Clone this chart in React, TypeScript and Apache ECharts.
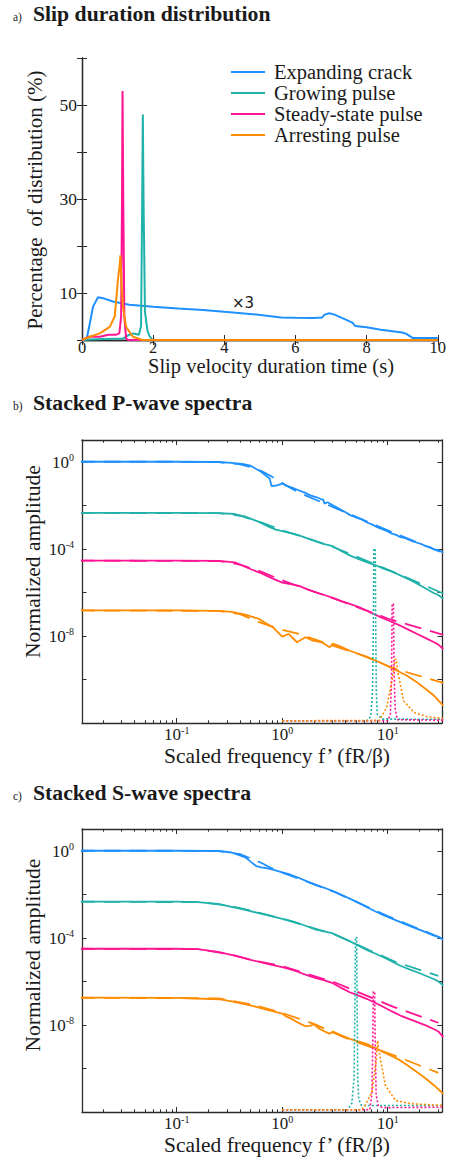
import React, { useEffect, useRef } from 'react';
import * as echarts from 'echarts';

const SERIF = 'Liberation Serif, serif';
const TXT = '#1a1a1a';
const AXIS = '#2b2b2b';
const BLUE = '#1E90FF';
const TEAL = '#20B2AA';
const PINK = '#FF1493';
const ORANGE = '#FF8C00';

const legendNames = ['Expanding crack', 'Growing pulse', 'Steady-state pulse', 'Arresting pulse'];

// ---------- Panel a: [slip velocity duration (s), percentage of distribution (%)]
const durMin = 0;
const durMax = 10;
const durInterval = 2;
const pctMax = 60;
const pctInterval = 10;
const pctLabels = [10, 30, 50];

const durExpanding = [
  [0, 0], [0.13, 0.2], [0.22, 3.5], [0.31, 7.1], [0.45, 9.1], [0.59, 8.9], [0.87, 8.2], [1.33, 7.5],
  [2.0, 7.1], [2.7, 6.7], [3.4, 6.4], [4.0, 6.0], [4.8, 5.5], [5.6, 4.8], [6.0, 4.75], [6.5, 4.7],
  [6.75, 4.8], [6.82, 5.4], [6.95, 5.7], [7.1, 5.4], [7.6, 3.7], [7.68, 3.0], [8.0, 2.7], [8.4, 2.2],
  [9.0, 1.6], [9.12, 1.3], [9.3, 0.4], [10, 0.4],
];
const durGrowing = [
  [0, 0], [0.2, 0.1], [0.6, 0.2], [1.15, 0.3], [1.3, 1.0], [1.45, 1.4], [1.6, 1.1], [1.66, 3],
  [1.69, 28], [1.71, 48], [1.73, 30], [1.77, 6], [1.84, 2], [1.9, 0.8], [1.98, 0], [10, 0],
];
const durSteady = [
  [0, 0], [0.2, 0.7], [0.5, 0.7], [0.75, 1.1], [0.95, 1.1], [1.05, 1.4], [1.1, 5], [1.125, 30],
  [1.14, 53], [1.16, 30], [1.19, 5], [1.24, 0.3], [1.3, 0], [10, 0],
];
const durArresting = [
  [0, 0], [0.22, 0.7], [0.5, 1.4], [0.78, 2.8], [0.92, 5], [1.01, 12.8], [1.06, 16], [1.08, 18],
  [1.11, 12], [1.15, 7.1], [1.24, 2.8], [1.43, 0.7], [1.7, 0], [10, 0],
];

// ---------- Panels b and c: [log10 f', log10 normalized amplitude]
const pExpObs = [
  [-1.94, 0], [-1.5, 0], [-1, 0], [-0.6, -0.01], [-0.48, -0.05], [-0.38, -0.1], [-0.3, -0.18], [-0.2, -0.46],
  [-0.12, -0.77], [-0.1, -1.12], [-0.05, -1.08], [0, -1.0], [0.05, -1.12], [0.1, -1.2], [0.16, -1.32],
  [0.22, -1.43], [0.26, -1.53], [0.32, -1.62], [0.36, -1.7], [0.39, -1.75], [0.4, -1.92], [0.43, -1.86],
  [0.48, -2.0], [0.54, -2.16], [0.6, -2.32], [0.64, -2.44], [0.7, -2.56], [0.76, -2.66], [0.8, -2.78],
  [0.86, -2.9], [0.9, -3.0], [0.96, -3.12], [1.0, -3.2], [1.04, -3.3], [1.08, -3.36], [1.12, -3.46],
  [1.16, -3.5], [1.2, -3.58], [1.24, -3.66], [1.28, -3.72], [1.32, -3.78], [1.36, -3.88], [1.4, -3.92],
  [1.44, -4.02], [1.48, -4.05], [1.526, -4.18],
];
const pExpFit = [
  [-1.94, 0], [-1, 0], [-0.6, -0.02], [-0.4, -0.12], [-0.3, -0.24], [-0.2, -0.42], [-0.1, -0.68],
  [0, -0.98], [0.1, -1.26], [0.2, -1.5], [0.5, -2.12], [1.0, -3.15], [1.526, -4.2],
];
const pGrowObs = [
  [-1.94, -2.35], [-1, -2.35], [-0.6, -2.36], [-0.45, -2.4], [-0.35, -2.52], [-0.22, -2.76], [-0.12, -3.0],
  [-0.06, -3.12], [0.04, -3.23], [0.1, -3.3], [0.16, -3.38], [0.24, -3.52], [0.32, -3.66], [0.4, -3.78],
  [0.48, -3.88], [0.56, -4.1], [0.64, -4.3], [0.72, -4.46], [0.8, -4.61], [0.87, -4.72], [0.96, -4.91],
  [1.04, -5.05], [1.12, -5.22], [1.2, -5.4], [1.28, -5.6], [1.36, -5.82], [1.44, -6.04], [1.48, -6.12],
  [1.526, -6.3],
];
const pGrowFit = [
  [-1.94, -2.35], [-0.6, -2.36], [-0.4, -2.48], [-0.2, -2.78], [0, -3.15], [0.2, -3.45], [0.5, -3.95],
  [1.0, -4.95], [1.526, -6.05],
];
const pSteadyObs = [
  [-1.94, -4.54], [-1, -4.54], [-0.6, -4.55], [-0.45, -4.62], [-0.29, -4.95], [-0.2, -5.12], [-0.11, -5.32],
  [0, -5.55], [0.08, -5.62], [0.16, -5.7], [0.24, -5.86], [0.32, -6.0], [0.4, -6.12], [0.48, -6.25],
  [0.56, -6.4], [0.64, -6.53], [0.72, -6.66], [0.8, -6.83], [0.88, -7.02], [0.96, -7.2], [1.04, -7.36],
  [1.12, -7.53], [1.2, -7.72], [1.28, -7.91], [1.36, -8.1], [1.44, -8.29], [1.48, -8.4], [1.526, -8.6],
];
const pSteadyFit = [
  [-1.94, -4.54], [-0.6, -4.56], [-0.4, -4.72], [-0.2, -5.05], [0, -5.45], [0.2, -5.8], [0.5, -6.3],
  [1.0, -7.2], [1.526, -7.95],
];
const pArrestObs = [
  [-1.94, -6.83], [-1, -6.83], [-0.6, -6.85], [-0.48, -6.9], [-0.35, -7.02], [-0.22, -7.22], [-0.09, -7.6],
  [0, -8.03], [0.06, -7.91], [0.14, -8.29], [0.22, -8.06], [0.29, -8.22], [0.38, -8.3], [0.45, -8.52],
  [0.48, -8.35], [0.56, -8.5], [0.64, -8.68], [0.72, -8.82], [0.8, -8.98], [0.88, -9.12], [0.96, -9.29],
  [1.02, -9.42], [1.09, -9.6], [1.18, -9.82], [1.28, -10.14], [1.36, -10.44], [1.44, -10.75], [1.526, -11.2],
];
const pArrestFit = [
  [-1.94, -6.83], [-0.6, -6.85], [-0.4, -7.0], [-0.22, -7.37], [0, -7.72], [0.16, -7.91], [0.48, -8.45],
  [0.8, -8.95], [1.03, -9.45], [1.526, -10.16],
];
const pGrowDot = [
  [0.0, -11.9], [0.8, -11.9], [0.84, -11.7], [0.856, -10.5], [0.864, -7.5], [0.868, -4.0], [0.882, -4.0],
  [0.886, -7.5], [0.892, -10.5], [0.9, -11.6], [0.95, -11.82], [1.526, -11.83],
];
const pSteadyDot = [
  [0.0, -11.9], [1.0, -11.9], [1.025, -11.6], [1.036, -10], [1.042, -6.53], [1.054, -6.53], [1.06, -9.5],
  [1.07, -11.3], [1.09, -11.85], [1.526, -11.87],
];
const pArrestDot = [
  [0.0, -11.9], [0.92, -11.88], [0.99, -11.29], [1.04, -10.06], [1.07, -9.1], [1.08, -9.06], [1.1, -9.75],
  [1.15, -10.98], [1.25, -11.52], [1.38, -11.72], [1.526, -11.78],
];

const sExpObs = [
  [-1.94, 0], [-1, 0], [-0.6, -0.01], [-0.48, -0.08], [-0.35, -0.3], [-0.3, -0.5], [-0.25, -0.69],
  [-0.2, -0.76], [-0.15, -0.8], [-0.08, -0.88], [0, -0.99], [0.08, -1.1], [0.16, -1.25], [0.24, -1.42],
  [0.32, -1.58], [0.4, -1.7], [0.48, -1.85], [0.56, -2.02], [0.64, -2.2], [0.72, -2.38], [0.8, -2.58],
  [0.88, -2.78], [0.96, -2.96], [1.04, -3.12], [1.12, -3.28], [1.2, -3.44], [1.28, -3.59], [1.36, -3.74],
  [1.44, -3.9], [1.48, -3.96], [1.526, -4.08],
];
const sExpFit = [
  [-1.94, 0], [-1, 0], [-0.6, -0.02], [-0.4, -0.15], [-0.3, -0.35], [-0.2, -0.55], [-0.1, -0.8],
  [0, -1.0], [0.2, -1.35], [0.5, -1.9], [1.0, -3.0], [1.526, -4.05],
];
const sGrowObs = [
  [-1.94, -2.34], [-1, -2.34], [-0.8, -2.36], [-0.61, -2.44], [-0.5, -2.55], [-0.35, -2.72], [-0.15, -2.95],
  [0, -3.13], [0.08, -3.22], [0.16, -3.34], [0.24, -3.48], [0.32, -3.62], [0.4, -3.7], [0.48, -3.8],
  [0.56, -3.98], [0.64, -4.15], [0.72, -4.35], [0.8, -4.56], [0.88, -4.72], [0.96, -4.89], [1.04, -5.08],
  [1.12, -5.28], [1.2, -5.44], [1.28, -5.58], [1.36, -5.74], [1.44, -5.9], [1.48, -6.0], [1.526, -6.19],
];
const sGrowFit = [
  [-1.94, -2.34], [-0.8, -2.36], [-0.5, -2.52], [-0.3, -2.75], [0, -3.12], [0.5, -3.85], [1.06, -5.08],
  [1.48, -5.75],
];
const sSteadyObs = [
  [-1.94, -4.5], [-1, -4.5], [-0.8, -4.52], [-0.61, -4.64], [-0.45, -4.82], [-0.29, -5.02], [-0.15, -5.18],
  [0, -5.34], [0.08, -5.45], [0.16, -5.58], [0.24, -5.72], [0.32, -5.85], [0.4, -5.95], [0.48, -6.08],
  [0.56, -6.3], [0.64, -6.5], [0.72, -6.64], [0.8, -6.8], [0.88, -6.98], [0.96, -7.18], [1.04, -7.38],
  [1.12, -7.57], [1.2, -7.72], [1.28, -7.87], [1.36, -8.02], [1.44, -8.2], [1.48, -8.3], [1.526, -8.56],
];
const sSteadyFit = [
  [-1.94, -4.5], [-0.8, -4.52], [-0.5, -4.75], [-0.29, -5.02], [0, -5.3], [0.5, -6.05], [1.06, -7.18],
  [1.48, -7.9],
];
const sArrestObs = [
  [-1.94, -6.75], [-1, -6.76], [-0.6, -6.82], [-0.48, -6.92], [-0.3, -7.1], [-0.15, -7.3], [0, -7.48],
  [0.04, -7.62], [0.08, -7.7], [0.16, -7.92], [0.22, -8.06], [0.26, -8.04], [0.3, -7.98], [0.36, -8.2],
  [0.45, -8.41], [0.48, -8.3], [0.56, -8.48], [0.64, -8.64], [0.72, -8.76], [0.8, -8.87], [0.88, -9.06],
  [0.96, -9.25], [1.04, -9.44], [1.12, -9.63], [1.2, -9.9], [1.28, -10.17], [1.36, -10.46], [1.44, -10.78],
  [1.526, -11.16],
];
const sArrestFit = [
  [-1.94, -6.75], [-0.6, -6.78], [-0.3, -7.05], [0, -7.45], [0.3, -7.95], [0.6, -8.6], [1.06, -9.4],
  [1.48, -10.2],
];
const sGrowDot = [
  [0.0, -11.9], [0.62, -11.9], [0.66, -11.6], [0.68, -10.5], [0.69, -7], [0.694, -3.97], [0.706, -3.97],
  [0.71, -7], [0.716, -10.5], [0.725, -11.4], [0.75, -11.7], [1.526, -11.7],
];
const sSteadyDot = [
  [0.0, -11.9], [0.83, -11.9], [0.85, -11.2], [0.858, -9], [0.864, -6.47], [0.876, -6.47], [0.882, -9],
  [0.89, -11.2], [0.91, -11.7], [0.95, -11.8], [1.526, -11.78],
];
const sArrestDot = [
  [0.0, -11.9], [0.75, -11.9], [0.786, -11.7], [0.85, -11.08], [0.89, -9.71], [0.904, -8.72], [0.93, -9.56],
  [0.978, -10.78], [1.074, -11.47], [1.22, -11.62], [1.526, -11.7],
];

// ---------- log axes ticks
const fMin = 0.01265;
const fMax = 32.7;
const ampMin = 1e-12;
const ampMax = 10;
const xMajorTicks = [0.1, 1, 10];
const xMinorTicks = [
  0.02, 0.03, 0.04, 0.05, 0.06, 0.07, 0.08, 0.09,
  0.2, 0.3, 0.4, 0.5, 0.6, 0.7, 0.8, 0.9,
  2, 3, 4, 5, 6, 7, 8, 9, 20, 30,
];
const yTicks = [1e-10, 1e-8, 1e-6, 1e-4, 1e-2, 1];
const yLabelTicks = [1e-8, 1e-4, 1];

const toXY = (pts: number[][]) => pts.map(([lf, la]) => [Math.pow(10, lf), Math.pow(10, la)]);

const powRich = {
  b: { fontFamily: SERIF, fontSize: 17, color: TXT, lineHeight: 18, verticalAlign: 'bottom' },
  s: { fontFamily: SERIF, fontSize: 10, color: TXT, lineHeight: 10, verticalAlign: 'top' },
};
const powLabel = (v: number) => {
  const e = Math.round(Math.log10(v));
  return `{b|10}{s|${e}}`;
};

const tickStyle = { color: AXIS, width: 1 };
const lineStyleAxis = { color: AXIS, width: 1.3 };

function logXAxes(gridIndex: number) {
  const base = {
    type: 'log', logBase: 10, gridIndex, min: fMin, max: fMax,
    splitLine: { show: false }, minorTick: { show: false }, minorSplitLine: { show: false },
  };
  return [
    {
      ...base, position: 'bottom',
      axisLine: { show: true, lineStyle: lineStyleAxis },
      axisTick: { show: true, inside: true, length: 5, customValues: xMajorTicks, lineStyle: tickStyle },
      axisLabel: { show: true, customValues: xMajorTicks, formatter: powLabel, rich: powRich, margin: 2 },
    },
    {
      ...base, position: 'bottom',
      axisLine: { show: false },
      axisTick: { show: true, inside: true, length: 2.7, customValues: xMinorTicks, lineStyle: tickStyle },
      axisLabel: { show: false },
    },
    {
      ...base, position: 'top',
      axisLine: { show: true, lineStyle: lineStyleAxis },
      axisTick: { show: true, inside: true, length: 5, customValues: xMajorTicks, lineStyle: tickStyle },
      axisLabel: { show: false },
    },
    {
      ...base, position: 'top',
      axisLine: { show: false },
      axisTick: { show: true, inside: true, length: 2.7, customValues: xMinorTicks, lineStyle: tickStyle },
      axisLabel: { show: false },
    },
  ];
}

function logYAxes(gridIndex: number) {
  const base = {
    type: 'log', logBase: 10, gridIndex, min: ampMin, max: ampMax,
    splitLine: { show: false }, minorTick: { show: false }, minorSplitLine: { show: false },
    axisLine: { show: true, lineStyle: lineStyleAxis },
  };
  return [
    {
      ...base, position: 'left',
      axisTick: { show: true, inside: true, length: 4.5, customValues: yTicks, lineStyle: tickStyle },
      axisLabel: { show: true, customValues: yLabelTicks, formatter: powLabel, rich: powRich, margin: 8 },
    },
    {
      ...base, position: 'right',
      axisTick: { show: true, inside: true, length: 4.5, customValues: yTicks, lineStyle: tickStyle },
      axisLabel: { show: false },
    },
  ];
}

type Kind = 'solid' | 'dashed' | 'dotted';
function specSeries(name: string, pts: number[][], color: string, xi: number, yi: number, kind: Kind, z: number) {
  const type = kind === 'solid' ? 'solid' : kind === 'dashed' ? [17, 9] : [2, 2];
  const width = kind === 'solid' ? 1.8 : kind === 'dashed' ? 1.8 : 1.6;
  return {
    type: 'line', name, data: toXY(pts), xAxisIndex: xi, yAxisIndex: yi,
    symbol: 'none', silent: true, z,
    lineStyle: { color, width, type },
  };
}

function durSeries(name: string, pts: number[][], color: string, z: number) {
  return {
    type: 'line', name, data: pts, xAxisIndex: 0, yAxisIndex: 0,
    symbol: 'none', showSymbol: false, silent: true, z,
    itemStyle: { color },
    lineStyle: { color, width: 2 },
  };
}

function spectraPanel(prefix: string, xi: number, yi: number, sets: any[]) {
  const colors = [BLUE, TEAL, PINK, ORANGE];
  const out: any[] = [];
  sets.forEach((s, i) => out.push(specSeries(`${prefix} ${legendNames[i]} observed`, s.obs, colors[i], xi, yi, 'solid', 2)));
  sets.forEach((s, i) => out.push(specSeries(`${prefix} ${legendNames[i]} fit`, s.fit, colors[i], xi, yi, 'dashed', 3)));
  sets.forEach((s, i) => {
    if (s.dot) out.push(specSeries(`${prefix} ${legendNames[i]} dotted`, s.dot, colors[i], xi, yi, 'dotted', 4));
  });
  return out;
}

const linAxisBase = {
  splitLine: { show: false },
  axisLine: { show: true, lineStyle: lineStyleAxis },
};

export default function App() {
  const ref = useRef<HTMLDivElement>(null);

  useEffect(() => {
    if (!ref.current) return;
    const chart = echarts.init(ref.current, undefined, { renderer: 'svg' });

    const gridL = 82;
    const gridW = 360;
    const grids = [
      { left: gridL, top: 58, width: gridW, height: 282 },
      { left: gridL, top: 440, width: gridW, height: 283 },
      { left: gridL, top: 829, width: gridW, height: 283 },
    ];

    const xAxes: any[] = [
      {
        ...linAxisBase, type: 'value', gridIndex: 0, position: 'bottom', min: durMin, max: durMax, interval: durInterval,
        axisTick: { show: true, inside: true, length: 5, lineStyle: tickStyle },
        axisLabel: { show: true, fontFamily: SERIF, fontSize: 16.5, lineHeight: 12, color: TXT, margin: 1 },
      },
      {
        ...linAxisBase, type: 'value', gridIndex: 0, position: 'top', min: durMin, max: durMax, interval: durInterval,
        axisTick: { show: true, inside: true, length: 5, lineStyle: tickStyle },
        axisLabel: { show: false },
      },
      ...logXAxes(1),
      ...logXAxes(2),
    ];

    const yAxes: any[] = [
      {
        ...linAxisBase, type: 'value', gridIndex: 0, position: 'left', min: 0, max: pctMax, interval: pctInterval,
        axisTick: { show: true, inside: true, length: 5, lineStyle: tickStyle },
        axisLabel: {
          show: true, fontFamily: SERIF, fontSize: 17.5, color: TXT, margin: 5,
          formatter: (v: number) => (pctLabels.includes(v) ? String(v) : ''),
        },
      },
      {
        ...linAxisBase, type: 'value', gridIndex: 0, position: 'right', min: 0, max: pctMax, interval: pctInterval,
        axisTick: { show: true, inside: true, length: 5, lineStyle: tickStyle },
        axisLabel: { show: false },
      },
      ...logYAxes(1),
      ...logYAxes(2),
    ];

    const series: any[] = [
      durSeries(legendNames[0], durExpanding, BLUE, 2),
      durSeries(legendNames[1], durGrowing, TEAL, 3),
      durSeries(legendNames[2], durSteady, PINK, 4),
      durSeries(legendNames[3], durArresting, ORANGE, 5),
      ...spectraPanel('P-wave', 2, 2, [
        { obs: pExpObs, fit: pExpFit },
        { obs: pGrowObs, fit: pGrowFit, dot: pGrowDot },
        { obs: pSteadyObs, fit: pSteadyFit, dot: pSteadyDot },
        { obs: pArrestObs, fit: pArrestFit, dot: pArrestDot },
      ]),
      ...spectraPanel('S-wave', 6, 4, [
        { obs: sExpObs, fit: sExpFit },
        { obs: sGrowObs, fit: sGrowFit, dot: sGrowDot },
        { obs: sSteadyObs, fit: sSteadyFit, dot: sSteadyDot },
        { obs: sArrestObs, fit: sArrestFit, dot: sArrestDot },
      ]),
    ];

    const text = (t: string, x: number, y: number, font: string, align = 'left', rotation = 0) => ({
      type: 'text', x, y, silent: true, rotation,
      style: { text: t, font, fill: TXT, textAlign: align, textVerticalAlign: 'middle' },
    });

    const graphic = [
      text('a)', 13, 17, `11.5px ${SERIF}`),
      text('Slip duration distribution', 33, 14.3, `bold 21.7px ${SERIF}`),
      text('b)', 13, 405.6, `11.5px ${SERIF}`),
      text('Stacked P-wave spectra', 33, 402.6, `bold 21.7px ${SERIF}`),
      text('c)', 13, 796, `11.5px ${SERIF}`),
      text('Stacked S-wave spectra', 33, 792.6, `bold 21.7px ${SERIF}`),
      text('Percentage  of distribution (%)', 34.5, 200, `21px ${SERIF}`, 'center', Math.PI / 2),
      text('Slip velocity duration time (s)', 271, 366, `20.5px ${SERIF}`, 'center'),
      text('Normalized amplitude', 32.5, 561.5, `21.5px ${SERIF}`, 'center', Math.PI / 2),
      text('Scaled frequency f\u2019 (fR/\u03b2)', 277, 755.5, `21.5px ${SERIF}`, 'center'),
      text('Normalized amplitude', 32.5, 955, `21.5px ${SERIF}`, 'center', Math.PI / 2),
      text('Scaled frequency f\u2019 (fR/\u03b2)', 277, 1144.5, `21.5px ${SERIF}`, 'center'),
      text('\u00d73', 243, 303, `15px DejaVu Sans, sans-serif`, 'center'),
    ];

    chart.setOption({
      animation: false,
      backgroundColor: '#ffffff',
      grid: grids,
      xAxis: xAxes,
      yAxis: yAxes,
      legend: {
        data: legendNames,
        orient: 'vertical',
        left: 231,
        top: 61.5,
        padding: 0,
        icon: 'rect',
        itemWidth: 34,
        itemHeight: 2,
        itemGap: 0,
        selectedMode: false,
        textStyle: { fontFamily: SERIF, fontSize: 20.5, lineHeight: 21, color: TXT, padding: [0, 0, 0, 4] },
      },
      series,
      graphic,
    });

    return () => chart.dispose();
  }, []);

  return (
    <div
      ref={ref}
      style={{ position: 'fixed', left: 0, top: 0, width: 449, height: 1160, background: '#fff' }}
    />
  );
}
